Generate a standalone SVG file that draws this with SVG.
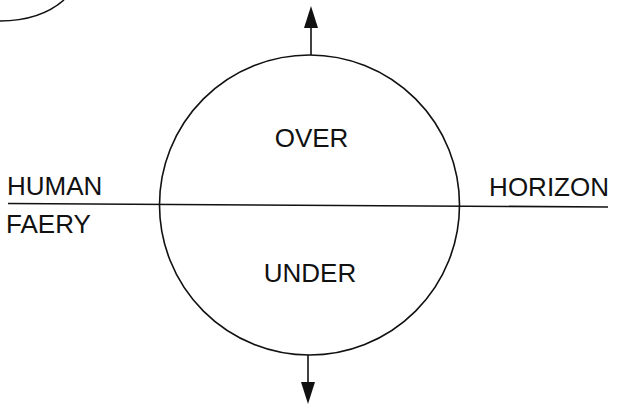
<svg xmlns="http://www.w3.org/2000/svg" width="618" height="407" viewBox="0 0 618 407">
<style>
.ln{fill:none;stroke:#111;stroke-width:1.6}
.t{font-family:"Liberation Sans",Arial,sans-serif;font-size:26px;fill:#111}
</style>
<defs>
<marker id="ah" viewBox="0 0 14 22" refX="14" refY="7" markerWidth="14" markerHeight="22" markerUnits="userSpaceOnUse" orient="auto">
<path d="M0,0 L22,7 L0,14 Z" fill="#111"/>
</marker>
</defs>
<rect width="618" height="407" fill="#fff"/>
<g id="corner-arc"><path class="ln" d="M0,21 C25,21 48,14 64,0"/></g>
<g id="circle"><circle class="ln" cx="309.5" cy="205" r="150"/></g>
<g id="horizon-line"><line class="ln" x1="8" y1="203.5" x2="608" y2="207"/></g>
<g id="connectors">
<line class="ln" x1="311" y1="55" x2="311" y2="20"/>
<path d="M304,28 L311,6 L318,28 Z" fill="#111"/>
<line class="ln" x1="308" y1="355" x2="308" y2="390"/>
<path d="M301,382 L308,404 L315,382 Z" fill="#111"/>
</g>
<g id="over"><text class="t" x="311.5" y="147" text-anchor="middle">OVER</text></g>
<g id="under"><text class="t" x="310" y="282" text-anchor="middle">UNDER</text></g>
<g id="human"><text class="t" x="7" y="195">HUMAN</text></g>
<g id="faery"><text class="t" x="6" y="233">FAERY</text></g>
<g id="horizon"><text class="t" x="609" y="196" text-anchor="end">HORIZON</text></g>
</svg>
